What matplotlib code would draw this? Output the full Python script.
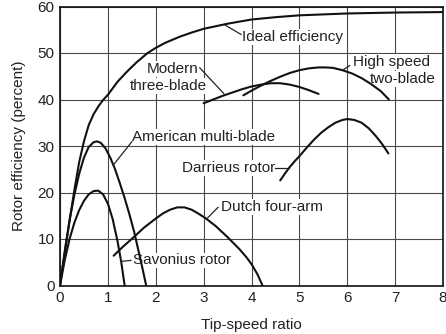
import matplotlib
matplotlib.use("Agg")
import matplotlib.pyplot as plt

plt.rcParams['font.family'] = ['Liberation Sans', 'DejaVu Sans']

# ---- data ----
ideal_x = [0, 0.05, 0.1, 0.2, 0.3, 0.4, 0.5, 0.6, 0.7, 0.8, 0.9, 1.0, 1.2, 1.4, 1.6, 1.83, 2.0, 2.2, 2.5, 2.75, 3.0, 3.5, 4.0, 4.5, 5.0, 5.5, 6.0, 7.0, 8.0]
ideal_y = [0, 3.6, 7, 14, 20.5, 26.5, 31, 34.5, 36.8, 38.5, 39.9, 41, 43.8, 46, 48, 50, 51.1, 52.2, 53.5, 54.4, 55.2, 56.3, 57.2, 57.7, 58.1, 58.3, 58.5, 58.7, 58.8]

american_x = [0, 0.1, 0.2, 0.3, 0.4, 0.5, 0.6, 0.7, 0.77, 0.85, 0.95, 1.05, 1.15, 1.25, 1.35, 1.45, 1.55, 1.65, 1.72, 1.8]
american_y = [0, 7.5, 14, 19.5, 24, 27.5, 29.8, 30.8, 31, 30.7, 29.5, 27.5, 25, 22, 18.8, 15.3, 11.5, 7, 3.8, 0]

savonius_x = [0, 0.1, 0.2, 0.3, 0.4, 0.5, 0.6, 0.7, 0.8, 0.9, 1.0, 1.1, 1.2, 1.28, 1.35]
savonius_y = [0, 5.5, 10, 13.5, 16.2, 18.2, 19.6, 20.3, 20.4, 19.6, 17.6, 14.3, 9.6, 5, 0]

dutch_x = [1.12, 1.3, 1.53, 1.75, 2.0, 2.15, 2.3, 2.45, 2.6, 2.75, 2.9, 3.05, 3.25, 3.5, 3.75, 3.9, 4.0, 4.12, 4.23]
dutch_y = [6.4, 8.2, 10.3, 12.4, 14.4, 15.5, 16.3, 16.8, 16.8, 16.3, 15.4, 14.4, 12.8, 10.4, 7.8, 6.0, 4.6, 2.5, 0]

modern_x = [3.0, 3.2, 3.4, 3.6, 3.8, 4.0, 4.2, 4.4, 4.6, 4.8, 5.0, 5.2, 5.4]
modern_y = [39.2, 40.0, 40.8, 41.5, 42.2, 42.8, 43.2, 43.5, 43.5, 43.2, 42.7, 42.0, 41.2]

highspeed_x = [3.83, 4.0, 4.2, 4.4, 4.6, 4.8, 5.0, 5.2, 5.4, 5.55, 5.7, 5.9, 6.1, 6.3, 6.5, 6.7, 6.87]
highspeed_y = [40.9, 41.9, 43.0, 44.0, 44.9, 45.7, 46.3, 46.7, 46.9, 46.9, 46.8, 46.3, 45.6, 44.6, 43.3, 41.8, 40.0]

darrieus_x = [4.6, 4.7, 4.8, 4.9, 5.0, 5.15, 5.3, 5.45, 5.6, 5.75, 5.9, 6.0, 6.15, 6.3, 6.45, 6.6, 6.73, 6.86]
darrieus_y = [22.6, 24.1, 25.5, 26.7, 27.8, 29.6, 31.3, 32.8, 34.0, 35.0, 35.6, 35.8, 35.6, 35.0, 33.8, 32.1, 30.4, 28.4]

x_ticks = [0, 1, 2, 3, 4, 5, 6, 7, 8]
y_ticks = [0, 10, 20, 30, 40, 50, 60]

# ---- figure ----
fig = plt.figure(figsize=(4.46, 3.34), dpi=100)
ax = fig.add_axes([60 / 446, 48.5 / 334, 383 / 446, 279 / 334])

ax.set_xlim(0, 8)
ax.set_ylim(0, 60)
ax.set_xticks(x_ticks)
ax.set_yticks(y_ticks)
ax.set_axisbelow(True)
ax.grid(True, color='#4a4a4a', lw=0.8)
ax.tick_params(length=0, pad=4, labelsize=11, colors='#222222')
for s in ax.spines.values():
    s.set_color('#111111')
    s.set_linewidth(1.2)

lw = 1.5
for xs, ys in [(ideal_x, ideal_y), (american_x, american_y), (savonius_x, savonius_y),
               (dutch_x, dutch_y), (modern_x, modern_y), (highspeed_x, highspeed_y),
               (darrieus_x, darrieus_y)]:
    ax.plot(xs, ys, color='#111111', lw=lw, zorder=3, solid_capstyle='round',
            solid_joinstyle='round')

ax.set_xlabel('Tip-speed ratio', fontsize=11, color='#222222', labelpad=9)
ax.set_ylabel('Rotor efficiency (percent)', fontsize=11, color='#222222', labelpad=8)

bb = dict(facecolor='white', edgecolor='none', pad=0.6)
tk = dict(fontsize=11, color='#222222', va='center', zorder=2, bbox=bb)

ax.text(3.81, 53.4, 'Ideal efficiency', ha='left', **tk)
ax.text(1.81, 46.6, 'Modern', ha='left', **tk)
ax.text(1.46, 42.9, 'three-blade', ha='left', **tk)
ax.text(6.12, 48.1, 'High speed', ha='left', **tk)
ax.text(6.47, 44.4, 'two-blade', ha='left', **tk)
ax.text(1.50, 31.9, 'American multi-blade', ha='left', **tk)
ax.text(2.54, 25.3, 'Darrieus rotor', ha='left', **tk)
ax.text(3.36, 16.9, 'Dutch four-arm', ha='left', **tk)
ax.text(1.52, 5.4, 'Savonius rotor', ha='left', **tk)

lk = dict(color='#222222', lw=0.9, zorder=3)
ax.plot([3.45, 3.78], [56.0, 54.0], **lk)
ax.plot([2.92, 3.42], [46.8, 41.3], **lk)
ax.plot([6.05, 5.92], [47.3, 46.4], **lk)
ax.plot([1.50, 1.12], [30.9, 26.0], **lk)
ax.plot([4.50, 4.78], [25.3, 25.3], **lk)
ax.plot([3.08, 3.30], [14.5, 16.8], **lk)
ax.plot([1.29, 1.48], [5.2, 5.4], **lk)

fig.savefig('out.png', dpi=100)
